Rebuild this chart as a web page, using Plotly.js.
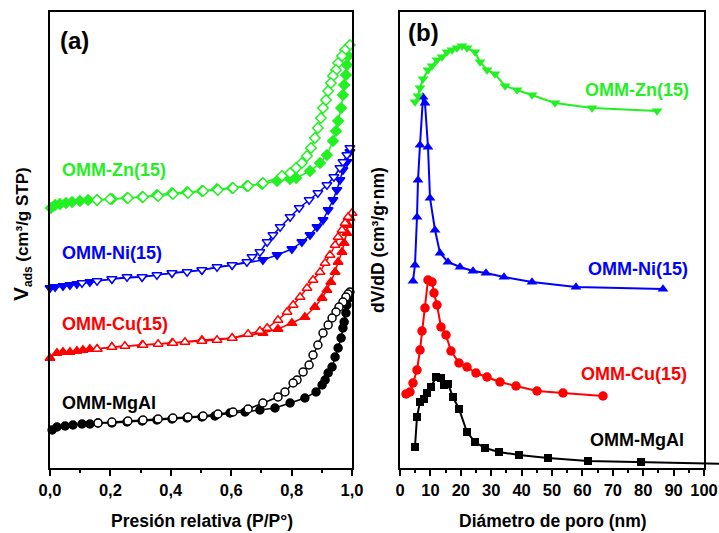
<!DOCTYPE html>
<html>
<head>
<meta charset="utf-8">
<script src="https://cdn.plot.ly/plotly-3.0.1.min.js"></script>
<style>html,body{margin:0;padding:0;background:#fff}#chart{width:719px;height:533px}</style>
</head>
<body>
<div id="chart"></div>
<script>
// ---------- Panel (a): N2 isotherms (P/P0, Vads offset, arbitrary units) ----------
const znAdsP = [0.003,0.017,0.033,0.053,0.073,0.099,0.126,0.156,0.205,0.255,0.305,0.354,0.404,0.454,0.503,0.553,0.603,0.652,0.702,0.752,0.795,0.815,0.861,0.894,0.917,0.937,0.947,0.954,0.964,0.970,0.974,0.980,0.983,0.987];
const znAdsV = [260,263,264,265,266,267,268,268,269,270,271,273,275,276,277,279,280,282,284,287,289,290,297,305,313,327,337,347,360,373,383,393,403,412];
const znDesP = [0.993,0.977,0.967,0.954,0.947,0.937,0.930,0.921,0.914,0.904,0.897,0.887,0.877,0.864,0.851,0.834,0.815,0.795,0.768,0.705,0.656,0.606,0.556,0.507,0.457,0.407,0.358,0.308,0.258,0.199,0.156];
const znDesV = [423,418,412,405,398,392,385,377,368,360,350,340,330,320,312,305,300,295,292,285,282,280,278,277,275,274,272,271,270,269,268];

const niAdsP = [0.0,0.017,0.043,0.066,0.089,0.132,0.205,0.305,0.404,0.503,0.603,0.705,0.752,0.801,0.834,0.861,0.884,0.904,0.921,0.937,0.950,0.960,0.970,0.983,0.993];
const niAdsV = [180,181,182,183,184,186,189,191,195,198,203,208,213,219,226,233,241,248,258,268,278,288,298,306,316];
const niDesP = [0.993,0.983,0.970,0.960,0.940,0.917,0.887,0.858,0.825,0.795,0.762,0.738,0.719,0.695,0.669,0.652,0.603,0.553,0.503,0.454,0.404,0.354,0.305,0.255,0.205,0.156,0.106];
const niDesV = [320,313,306,300,291,283,275,268,260,251,241,233,226,216,211,206,203,201,198,196,195,193,191,191,189,187,185];

const cuAdsP = [0,0.023,0.043,0.066,0.089,0.109,0.132,0.156,0.205,0.305,0.404,0.503,0.603,0.705,0.755,0.801,0.844,0.877,0.901,0.917,0.930,0.944,0.954,0.967,0.974,0.983,0.987,0.993];
const cuAdsV = [110,115,116,116,117,118,119,119,121,123,125,128,130,135,139,145,151,161,170,178,186,196,206,216,225,235,243,250];
const cuDesP = [1.0,0.987,0.977,0.967,0.954,0.944,0.927,0.911,0.894,0.871,0.851,0.828,0.805,0.785,0.755,0.719,0.695,0.656,0.603,0.553,0.503,0.447,0.407,0.358,0.308,0.248,0.205,0.156];
const cuDesV = [255,251,245,238,231,223,213,205,196,188,180,171,163,156,148,140,137,134,130,128,127,126,125,124,123,122,121,119];

const mgAdsP = [0.007,0.023,0.050,0.076,0.106,0.132,0.159,0.205,0.255,0.305,0.354,0.404,0.454,0.503,0.546,0.596,0.646,0.695,0.745,0.795,0.844,0.881,0.901,0.911,0.921,0.934,0.944,0.954,0.964,0.970,0.974,0.980,0.983,0.990];
const mgAdsV = [38,41,42,43,44,44,45,45,46,47,48,49,50,51,52,55,56,58,60,65,70,76,83,88,95,101,111,120,130,140,146,155,163,170];
const mgDesP = [0.993,0.987,0.980,0.970,0.957,0.947,0.934,0.921,0.904,0.887,0.871,0.858,0.838,0.818,0.805,0.778,0.755,0.705,0.656,0.606,0.556,0.507,0.457,0.407,0.358,0.308,0.258,0.205,0.159];
const mgDesV = [176,174,171,166,161,156,150,143,135,123,113,103,96,88,85,76,71,65,59,56,54,52,51,50,49,48,47,46,45];

// ---------- Panel (b): pore size distributions (D nm, dV/dD offset, arbitrary units) ----------
const znD = [4.93,5.92,6.58,7.57,9.21,10.53,12.17,13.82,15.46,17.11,18.75,20.39,22.04,24.67,26.32,28.62,31.25,34.54,38.49,43.42,50.99,63.16,84.54];
const znPsd = [366,372,380,389,398,402,408,411,416,418,420,422,420,416,406,398,394,382,378,373,365,360,357];
const niD = [4.28,4.93,5.59,5.92,6.58,7.57,8.22,9.21,9.87,11.51,13.16,15.79,19.74,24.01,28.29,34.21,43.42,57.89,86.51];
const niPsd = [187,203,251,288,323,371,365,321,270,238,215,206,201,197,195,191,186,181,179];
const cuD = [1.97,3.29,4.28,5.59,6.58,7.24,8.22,9.21,10.53,11.18,12.17,13.49,15.13,16.78,19.41,22.04,25.0,28.62,32.89,38.16,45.07,53.62,66.78];
const cuPsd = [74,76,85,98,118,137,160,188,186,175,163,141,133,117,105,101,95,91,86,82,77,75,72];
const mgD = [4.93,5.59,6.58,7.89,8.88,10.2,11.84,13.49,14.47,15.79,17.43,19.41,22.04,24.67,27.96,32.57,39.14,48.68,61.84,79.28,125];
const mgPsd = [21,51,66,69,75,81,91,90,83,84,71,59,36,26,20,16,13,10,7,6,3];

const xTicksA = [0,0.2,0.4,0.6,0.8,1.0];
const xTickTextA = ['0,0','0,2','0,4','0,6','0,8','1,0'];
const xTicksB = [0,10,20,30,40,50,60,70,80,90,100];

// ---------- layout geometry ----------
const W = 719, H = 533, ML = 50, MR = 0, MT = 12, MB = 65;
const PW = W - ML - MR;
const aL = 50, aR = 352, bL = 400, bR = 704;
const dom = px => (px - ML) / PW;

const GREEN = '#22f022', BLUE = '#0000ff', RED = '#ff0000', BLACK = '#000000';

function iso(x, y, color, symbol, filled, name) {
  return {
    x: x, y: y, xaxis: 'x', yaxis: 'y', type: 'scatter', mode: 'lines+markers', name: name,
    line: {color: color, width: 1.5},
    marker: {symbol: symbol, size: symbol.startsWith('triangle') ? 8.5 : 8,
      color: filled ? color : '#ffffff', line: {color: color, width: 1.5}},
    showlegend: false, cliponaxis: false
  };
}
function psd(x, y, color, symbol, xa, name) {
  return {
    x: x, y: y, xaxis: xa, yaxis: 'y2', type: 'scatter', mode: 'lines+markers', name: name,
    line: {color: color, width: 2},
    marker: {symbol: symbol, size: symbol === 'square' ? 8 : 9.5, color: color},
    showlegend: false
  };
}

const data = [
  iso(mgAdsP, mgAdsV, BLACK, 'circle', true, 'MgAl ads'),
  iso(mgDesP, mgDesV, BLACK, 'circle', false, 'MgAl des'),
  iso(cuAdsP, cuAdsV, RED, 'triangle-up', true, 'Cu ads'),
  iso(cuDesP, cuDesV, RED, 'triangle-up', false, 'Cu des'),
  iso(niAdsP, niAdsV, BLUE, 'triangle-down', true, 'Ni ads'),
  iso(niDesP, niDesV, BLUE, 'triangle-down', false, 'Ni des'),
  iso(znAdsP, znAdsV, GREEN, 'diamond', true, 'Zn ads'),
  iso(znDesP, znDesV, GREEN, 'diamond', false, 'Zn des'),
  psd(mgD, mgPsd, BLACK, 'square', 'x3', 'MgAl'),
  psd(cuD, cuPsd, RED, 'circle', 'x2', 'Cu'),
  psd(niD, niPsd, BLUE, 'triangle-up', 'x2', 'Ni'),
  psd(znD, znPsd, GREEN, 'triangle-down', 'x2', 'Zn')
];

const FONT = 'Liberation Sans, Arial, Helvetica, sans-serif';
const frame = {showline: true, mirror: true, linewidth: 2, linecolor: '#000', showgrid: false, zeroline: false};

const layout = {
  width: W, height: H,
  margin: {l: ML, r: MR, t: MT, b: MB},
  paper_bgcolor: '#fff', plot_bgcolor: 'rgba(0,0,0,0)',
  separators: ',.',
  font: {family: FONT, color: '#000'},
  xaxis: Object.assign({}, frame, {
    domain: [dom(aL), dom(aR)], range: [0, 1], anchor: 'y',
    tickmode: 'array', tickvals: xTicksA, ticktext: xTickTextA,
    ticks: 'outside', ticklen: 6, tickwidth: 2, tickcolor: '#000',
    tickfont: {family: FONT, size: 16.5, weight: 'bold'},
    minor: {tickmode: 'array', tickvals: [0.1,0.3,0.5,0.7,0.9], ticks: 'outside', ticklen: 3, tickwidth: 2, tickcolor: '#000'}
  }),
  yaxis: Object.assign({}, frame, {domain: [0, 1], range: [0, 456], anchor: 'x', showticklabels: false, ticks: ''}),
  xaxis2: Object.assign({}, frame, {
    domain: [dom(bL), dom(bR)], range: [0, 100], anchor: 'y2',
    tickmode: 'array', tickvals: xTicksB,
    ticks: 'outside', ticklen: 6, tickwidth: 2, tickcolor: '#000',
    tickfont: {family: FONT, size: 16.5, weight: 'bold'},
    minor: {dtick: 5, ticks: 'outside', ticklen: 3, tickwidth: 2, tickcolor: '#000'}
  }),
  xaxis3: {domain: [dom(bL), 1], range: [0, (W - bL) / ((bR - bL) / 100)], anchor: 'y2', visible: false, showgrid: false, zeroline: false},
  yaxis2: Object.assign({}, frame, {domain: [0, 1], range: [0, 456], anchor: 'x2', showticklabels: false, ticks: ''}),
  annotations: [
    {xref: 'x', yref: 'y', x: 0.026, y: 428, text: '<b>(a)</b>', showarrow: false, xanchor: 'left', yanchor: 'middle', font: {size: 24, color: '#000'}},
    {xref: 'x', yref: 'y', x: 0.033, y: 298, text: '<b>OMM-Zn(15)</b>', showarrow: false, xanchor: 'left', yanchor: 'middle', font: {size: 18, color: GREEN}},
    {xref: 'x', yref: 'y', x: 0.033, y: 215, text: '<b>OMM-Ni(15)</b>', showarrow: false, xanchor: 'left', yanchor: 'middle', font: {size: 18, color: BLUE}},
    {xref: 'x', yref: 'y', x: 0.033, y: 144, text: '<b>OMM-Cu(15)</b>', showarrow: false, xanchor: 'left', yanchor: 'middle', font: {size: 18, color: RED}},
    {xref: 'x', yref: 'y', x: 0.033, y: 65, text: '<b>OMM-MgAl</b>', showarrow: false, xanchor: 'left', yanchor: 'middle', font: {size: 18, color: BLACK}},
    {xref: 'x2', yref: 'y2', x: 1.97, y: 436, text: '<b>(b)</b>', showarrow: false, xanchor: 'left', yanchor: 'middle', font: {size: 24, color: '#000'}},
    {xref: 'x2', yref: 'y2', x: 95.7, y: 378, text: '<b>OMM-Zn(15)</b>', showarrow: false, xanchor: 'right', yanchor: 'middle', font: {size: 18, color: GREEN}},
    {xref: 'x2', yref: 'y2', x: 95.4, y: 199, text: '<b>OMM-Ni(15)</b>', showarrow: false, xanchor: 'right', yanchor: 'middle', font: {size: 18, color: BLUE}},
    {xref: 'x2', yref: 'y2', x: 95.1, y: 94, text: '<b>OMM-Cu(15)</b>', showarrow: false, xanchor: 'right', yanchor: 'middle', font: {size: 18, color: RED}},
    {xref: 'x2', yref: 'y2', x: 94.1, y: 28, text: '<b>OMM-MgAl</b>', showarrow: false, xanchor: 'right', yanchor: 'middle', font: {size: 18, color: BLACK}},
    {xref: 'paper', yref: 'paper', x: dom(22), y: (468 - 234) / 456, text: '<b><span style="font-size:21px">V</span><sub>ads</sub> (cm³/g STP)</b>', textangle: -90, showarrow: false, xanchor: 'center', yanchor: 'middle', font: {size: 17}},
    {xref: 'paper', yref: 'paper', x: dom(378), y: (468 - 240) / 456, text: '<b>dV/dD (cm³/g·nm)</b>', textangle: -90, showarrow: false, xanchor: 'center', yanchor: 'middle', font: {size: 17.5}},
    {xref: 'paper', yref: 'paper', x: dom(202), y: (468 - 521) / 456, text: '<b>Presión relativa (P/P°)</b>', showarrow: false, xanchor: 'center', yanchor: 'middle', font: {size: 17.5}},
    {xref: 'paper', yref: 'paper', x: dom(553), y: (468 - 521) / 456, text: '<b>Diámetro de poro (nm)</b>', showarrow: false, xanchor: 'center', yanchor: 'middle', font: {size: 17.5}}
  ]
};

Plotly.newPlot('chart', data, layout, {displayModeBar: false, staticPlot: true});
</script>
</body>
</html>
